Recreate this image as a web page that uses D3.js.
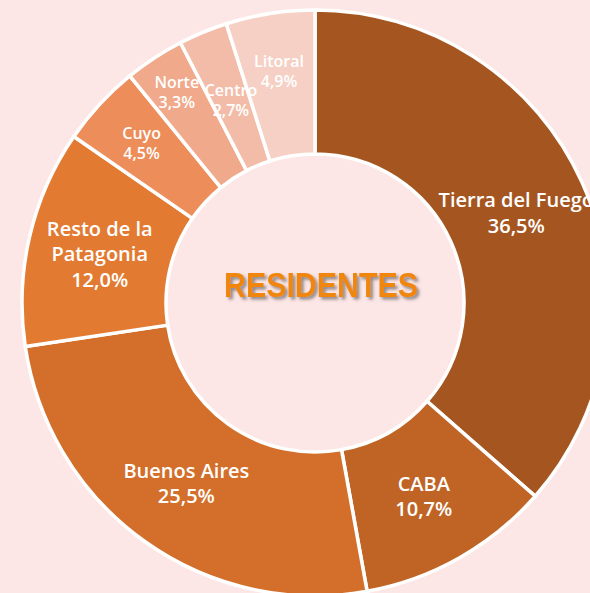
<!DOCTYPE html>
<html>
<head>
<meta charset="utf-8">
<script src="https://cdn.jsdelivr.net/npm/d3@7"></script>
<style>
  html, body { margin: 0; padding: 0; background: #fde6e6; overflow: hidden; }
</style>
</head>
<body>
<div id="chart"></div>
<script>
// data
var regions = ["Tierra del Fuego", "CABA", "Buenos Aires", "Resto de la Patagonia", "Cuyo", "Norte", "Centro", "Litoral"];
var shares = [36.5, 10.7, 25.5, 12.0, 4.5, 3.3, 2.7, 4.9];
var labelLines = [["Tierra del Fuego"], ["CABA"], ["Buenos Aires"], ["Resto de la", "Patagonia"], ["Cuyo"], ["Norte"], ["Centro"], ["Litoral"]];
var sliceColors = ["#a55620", "#c06426", "#d36f2a", "#e37a31", "#ed8d5a", "#f0a98a", "#f3bca8", "#f6d0c4"];
var centerTitle = "RESIDENTES";

function drawChart() {
  var svgWidth = 590, svgHeight = 593;
  var cx = 315, cy = 303;
  var outerR = 293, innerR = 149;

  var svg = d3.select("#chart")
    .append("svg")
    .attr("width", svgWidth)
    .attr("height", svgHeight);

  svg.append("rect")
    .attr("width", svgWidth).attr("height", svgHeight)
    .attr("fill", "#fde6e6");

  var defs = svg.append("defs");
  var shadow = defs.append("filter").attr("id", "shadow")
    .attr("x", "-10%").attr("y", "-20%").attr("width", "130%").attr("height", "160%");
  shadow.append("feDropShadow")
    .attr("dx", 2.5).attr("dy", 2.5).attr("stdDeviation", 1.5)
    .attr("flood-color", "#555").attr("flood-opacity", 0.65);

  var data = regions.map(function(r, i) {
    return { region: r, value: shares[i], lines: labelLines[i], color: sliceColors[i] };
  });

  var pie = d3.pie().sort(null).value(d => d.value);
  var arc = d3.arc().innerRadius(innerR).outerRadius(outerR);

  var g = svg.append("g").attr("transform", `translate(${cx}, ${cy})`);

  var arcs = pie(data);

  g.selectAll("path.slice")
    .data(arcs)
    .enter()
    .append("path")
    .attr("class", "slice")
    .attr("d", arc)
    .attr("fill", d => d.data.color)
    .attr("stroke", "#ffffff")
    .attr("stroke-width", 3.5)
    .attr("stroke-linejoin", "miter");

  // label radius (Excel nudges the small ones)
  var labelR = { "Cuyo": 236, "Norte": 252, "Centro": 220, "Litoral": 235 };
  var bigFont = 20, smallFont = 16;

  arcs.forEach(function(d) {
    var r = labelR[d.data.region] || (innerR + outerR) / 2;
    var pos = d3.arc().innerRadius(r).outerRadius(r).centroid(d);
    var small = d.data.value < 6;
    var fs = small ? smallFont : bigFont;
    var lh = small ? 20 : 25.5;
    var lines = d.data.lines.concat([d3.format(".1f")(d.data.value).replace(".", ",") + "%"]);
    var t = g.append("text")
      .attr("x", pos[0])
      .attr("y", pos[1] - (lines.length - 1) * lh / 2)
      .attr("text-anchor", "middle")
      .attr("dominant-baseline", "central")
      .attr("font-family", "'Open Sans', 'DejaVu Sans', sans-serif")
      .attr("font-weight", 600)
      .attr("font-size", `${fs}px`)
      .attr("fill", "#ffffff");
    lines.forEach(function(line, i) {
      t.append("tspan")
        .attr("x", pos[0])
        .attr("dy", i === 0 ? 0 : lh)
        .text(line);
    });
  });

  svg.append("text")
    .attr("x", 321)
    .attr("y", 297)
    .attr("text-anchor", "middle")
    .attr("font-family", "'Liberation Sans Narrow', 'Liberation Sans', Arial, sans-serif")
    .attr("font-weight", "bold")
    .attr("font-size", "35px")
    .attr("textLength", 194)
    .attr("lengthAdjust", "spacingAndGlyphs")
    .attr("fill", "#f0860e")
    .attr("filter", "url(#shadow)")
    .text(centerTitle);
}

document.addEventListener('DOMContentLoaded', function(){
  drawChart();
});
</script>
</body>
</html>
